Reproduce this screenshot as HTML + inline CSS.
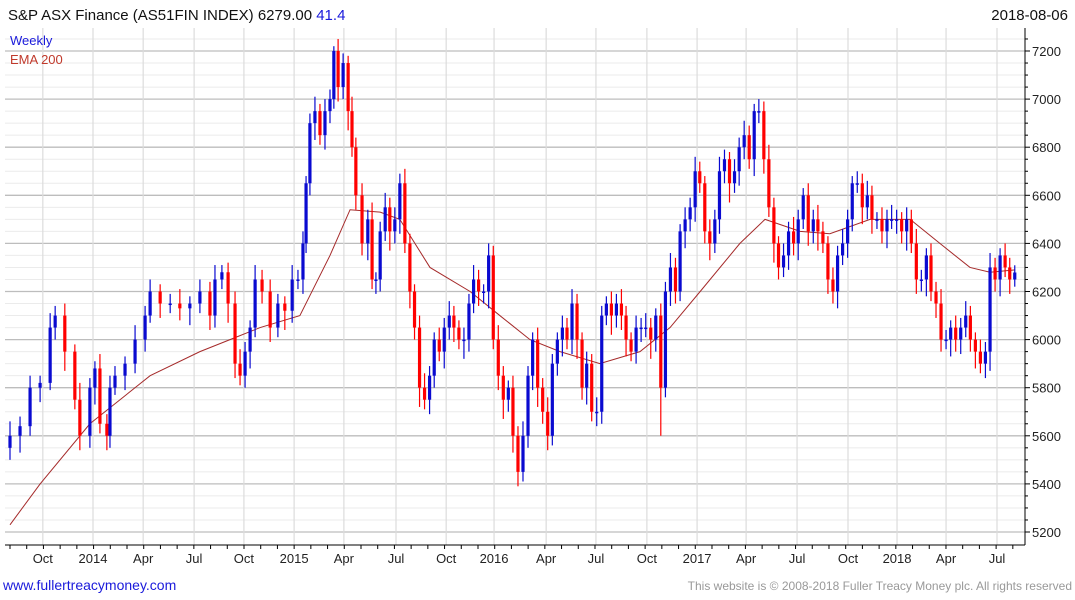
<!DOCTYPE html>
<html><head><meta charset="utf-8"><style>
body{margin:0;background:#fff;font-family:"Liberation Sans",sans-serif;}
svg{display:block}
</style></head><body>
<svg id="chart" width="1075" height="600">
<text x="8" y="20" font-size="15" fill="#111">S&amp;P ASX Finance (AS51FIN INDEX) 6279.00 <tspan fill="#1a1adb">41.4</tspan></text>
<text x="1068" y="20" font-size="15" fill="#111" text-anchor="end">2018-08-06</text>
<g id="grid"></g>
<g id="ema"></g>
<g id="candles"></g>
<g id="axes"></g>
<text x="10" y="45" font-size="13" fill="#1a1adb">Weekly</text>
<text x="10" y="64" font-size="13" fill="#c0392b">EMA 200</text>
<text x="3" y="590" font-size="14" fill="#1a1adb">www.fullertreacymoney.com</text>
<text x="1072" y="590" font-size="12" fill="#999" text-anchor="end">This website is © 2008-2018 Fuller Treacy Money plc. All rights reserved</text>
</svg>
<script>
const weeks=[0,2.6,5.2,7.8,10.4,11.7,14.2,16.8,18.1,20.7,22,23.3,25.1,25.9,27.2,29.8,32.4,35,36.3,38.9,41.5,44,46.6,49.2,51.8,53.1,54.9,56.5,58.3,59.6,60.9,62.2,63.5,65.3,67.4,69.4,71.2,73.1,74.6,75.9,76.7,77.7,79,80.3,81.6,82.9,83.9,85,86.3,87.6,88.6,89.6,91.2,92.7,93.8,94.8,95.9,97.2,98.4,99.7,101,
102.3,103.6,104.8,106.1,107.4,108.7,109.9,111.2,112.5,113.8,115.0,116.3,117.6,118.9,120.1,121.4,122.7,124.0,125.2,126.5,127.8,129.1,130.3,131.6,132.9,134.2,135.4,136.7,138.0,139.3,140.5,141.8,143.1,144.3,145.6,146.9,148.2,149.4,150.7,152.0,153.3,154.5,155.8,157.1,158.4,159.6,160.9,162.2,163.5,164.7,166.0,167.3,168.6,169.8,171.1,172.4,173.6,174.9,176.2,177.5,178.7,180.0,181.3,182.6,183.8,185.1,186.4,187.7,188.9,190.2,191.5,192.8,194.0,195.3,196.6,197.9,199.1,200.4,201.7,203.0,204.2,205.5,206.8,208.1,209.3,210.6,211.9,213.2,214.4,215.7,217.0,218.2,219.5,220.8,222.1,223.3,224.6,225.9,227.2,228.4,229.7,231.0,232.3,233.5,234.8,236.1,237.4,238.6,239.9,241.2,242.5,243.7,245.0,246.3,247.6,248.8,250.1,251.4,252.7,253.9,255.2,256.5,257.8,259.0,260.3];
const closes=[5600,5640,5800,5820,6050,6100,5950,5750,5600,5800,5880,5650,5600,5800,5850,5900,6000,6100,6200,6150,6150,6130,6150,6200,6100,6250,6280,6150,5900,5850,5950,6050,6250,6200,6050,6150,6120,6250,6250,6400,6650,6900,6950,6850,6950,7000,7200,7050,7150,6950,6800,6600,6400,6500,6250,6250,6450,6550,6450,6500,6650,6400,6200,6050,5800,5750,5850,6000,5950,6050,6100,6050,6000,6000,6150,6250,6200,6200,6350,6000,5850,5750,5800,5600,5450,5600,5850,6000,5800,5700,5600,5900,6000,6050,6000,6150,6000,5800,5900,5700,5700,6100,6150,6100,6150,6100,6000,5950,6050,6050,6050,6000,6100,5800,6200,6300,6200,6450,6500,6550,6700,6650,6450,6400,6500,6700,6750,6650,6700,6800,6850,6750,6950,6950,6750,6550,6400,6300,6350,6450,6400,6500,6600,6450,6500,6450,6400,6250,6200,6350,6400,6500,6650,6650,6550,6600,6500,6500,6450,6500,6500,6500,6450,6500,6400,6250,6250,6350,6200,6150,6000,6000,6050,6000,6050,6100,6000,5950,5900,5950,6300,6250,6350,6300,6250,6279];
const hiExt=[60,40,50,30,60,40,50,30,70,40,30,60,40,50,40,30,60,40,50,30,40,60,30,50,40,60,30,40,50,60,40,30,60,40,50,40,30,60,40,50,30,40,60,30,50,40,20,50,40,30,60,40,50,40,70,30,40,60,40,50,40,60,40,30,50,60,40,30,50,40,60,40,30,50,40,60,40,30,50,40,60,40,30,50,40,60,40,30,50,40,60,40,30,50,40,60,40,30,50,40,60,40,30,50,40,60,40,30,50,40,60,40,30,50,40,60,40,30,50,40,60,40,30,50,40,60,40,30,50,40,60,40,30,50,40,60,40,30,50,40,60,40,30,50,40,60,40,30,50,40,60,40,30,50,40,60,40,30,50,40,60,40,30,50,40,60,40,30,50,40,60,40,30,50,40,60,40,30,50,40,60,40,30,50,40,30];
const loExt=[50,70,40,60,30,50,80,40,60,50,70,40,60,50,30,60,40,50,30,60,40,50,70,40,60,50,40,80,60,40,50,70,40,50,60,40,80,50,40,60,40,50,70,40,60,50,40,60,50,80,40,60,50,70,40,60,50,40,80,50,60,40,70,50,80,40,60,50,40,70,50,60,40,80,50,40,60,50,70,40,60,80,50,70,60,40,50,60,80,50,60,40,50,70,40,60,80,50,70,40,60,50,40,80,50,60,70,40,50,60,40,80,50,200,40,60,50,40,70,50,60,40,50,70,40,60,50,80,40,60,50,40,70,50,60,40,80,50,40,60,50,70,40,60,50,80,40,60,50,70,40,60,50,40,70,50,60,40,50,70,40,60,50,80,40,60,50,70,40,60,50,40,70,50,60,40,50,70,40,60,80,50,70,40,60,30];
const emaWeeks=[0,7.8,20.7,28.5,36.3,49.2,57,64.8,75.1,82.9,88.1,95.9,101,108.8,119.2,126.9,134.7,142.5,152.8,163.2,171,178.8,189.1,195.6,204.7,212.4,222.8,233.2,240.9,248.7,253.9,260.4];
const emaValues=[5230,5400,5650,5750,5850,5950,6000,6050,6100,6350,6540,6530,6500,6300,6200,6100,6000,5950,5900,5950,6050,6200,6400,6500,6450,6440,6500,6500,6400,6300,6280,6290];
const yTicks=[5200,5400,5600,5800,6000,6200,6400,6600,6800,7000,7200];
const xLabels=["Oct","2014","Apr","Jul","Oct","2015","Apr","Jul","Oct","2016","Apr","Jul","Oct","2017","Apr","Jul","Oct","2018","Apr","Jul"];
const xLabelWeeks=[8.5,21.5,34.5,47.7,60.6,73.6,86.5,100,113,125.4,138.9,151.8,165,178,190.7,203.9,217.1,229.8,242.5,255.7];

const NS="http://www.w3.org/2000/svg";
const L=5,R=1025,T=28,B=545;
const y=v=>532-(v-5200)*0.2405;
const x=w=>10+w*3.86;
function mk(tag,attrs,parent){const e=document.createElementNS(NS,tag);for(const k in attrs)e.setAttribute(k,attrs[k]);parent.appendChild(e);return e;}
const grid=document.getElementById('grid'),axes=document.getElementById('axes'),cg=document.getElementById('candles'),eg=document.getElementById('ema');
for(let v=5200;v<=7250;v+=50){
  const major=v%200===0;
  const ln=mk('line',{x1:L,x2:R,y1:y(v),y2:y(v),stroke:major?'#bdbdbd':'#ebebeb','stroke-width':major?1.3:1},grid);
  
  
}
xLabelWeeks.forEach((w,k)=>{
  const ln=mk('line',{x1:x(w),x2:x(w),y1:T,y2:B,stroke:'#dcdcdc','stroke-width':1.2},grid);
  
  
  const t=mk('text',{x:x(w),y:563,'font-size':13,fill:'#222','text-anchor':'middle'},axes);
  t.textContent=xLabels[k];
  
  
});
mk('line',{x1:R,x2:R,y1:T,y2:B,stroke:'#000'},axes);
mk('line',{x1:L,x2:R,y1:B,y2:B,stroke:'#000'},axes);
for(let w=0;w<262;w+=4.33){mk('line',{x1:x(w),x2:x(w),y1:B,y2:B+4,stroke:'#000'},axes);}
for(let v=5200;v<=7250;v+=50){mk('line',{x1:R,x2:R+(v%200===0?5:3),y1:y(v),y2:y(v),stroke:'#000'},axes);}
yTicks.forEach(v=>{
  const t=mk('text',{x:1032,y:y(v)+5,'font-size':13,fill:'#222'},axes);
  t.textContent=v;
  
  
});
let pts=emaWeeks.map((w,k)=>x(w)+','+y(emaValues[k])).join(' ');
const pl=mk('polyline',{points:pts,fill:'none',stroke:'#a52a2a','stroke-width':1},eg);


closes.forEach((c,i)=>{
  const o=i===0?5550:closes[i-1];
  const hi=Math.max(o,c)+hiExt[i],lo=Math.min(o,c)-loExt[i];
  const col=c>=o?'#0a0ad0':'#ff0000';
  const g=mk('g',{},cg);
  
  
  const cx=x(weeks[i]);
  mk('line',{x1:cx,x2:cx,y1:y(hi),y2:y(lo),stroke:col,'stroke-width':1.2},g);
  const top=y(Math.max(o,c)),h=Math.max(1.5,y(Math.min(o,c))-top);
  mk('rect',{x:cx-1.6,y:top,width:3.2,height:h,fill:col},g);
});
</script>
</body></html>
